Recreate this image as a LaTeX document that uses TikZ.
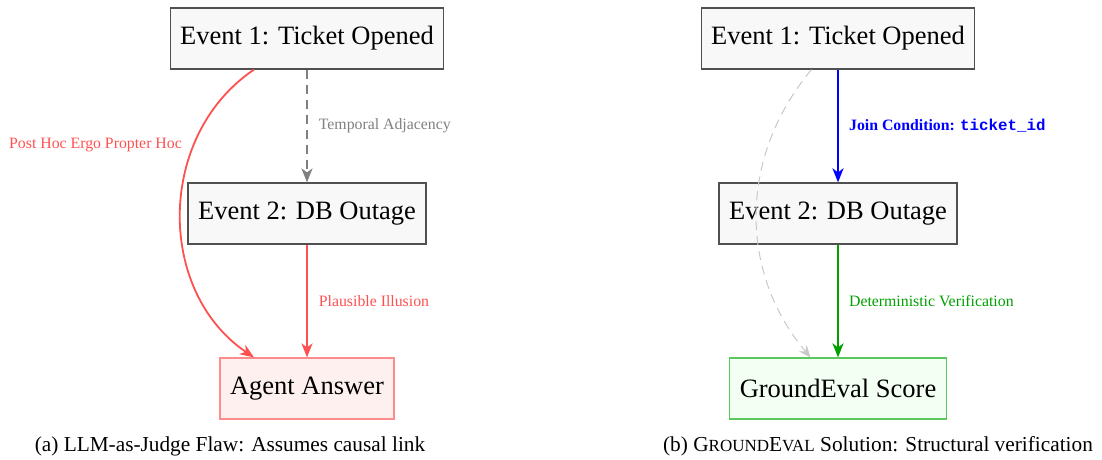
\documentclass[tikz,border=0pt]{standalone}
\usepackage{fontspec}
\setmainfont{Liberation Serif}
\setmonofont{Liberation Mono}
\usetikzlibrary{arrows.meta}
\definecolor{boxgray}{HTML}{F8F8F8}
\definecolor{edgegray}{HTML}{505050}
\definecolor{flawred}{HTML}{FF5050}
\definecolor{flawfill}{HTML}{FFF0F0}
\definecolor{flawedge}{HTML}{FF8C8C}
\definecolor{okgreen}{HTML}{00A000}
\definecolor{okfill}{HTML}{F2FFF2}
\definecolor{okedge}{HTML}{5CC85C}
\definecolor{lightdash}{HTML}{C8C8C8}
\definecolor{tempgray}{HTML}{808080}
\definecolor{joinblue}{HTML}{0000FF}
\begin{document}
\begin{tikzpicture}[x=1pt,y=1pt,
  evbox/.style={draw=edgegray, fill=boxgray, line width=1.2pt, minimum height=61pt,
    inner xsep=10pt, font=\fontsize{26.5}{30}\selectfont},
  flawbox/.style={evbox, draw=flawedge, fill=flawfill},
  okbox/.style={evbox, draw=okedge, fill=okfill},
  arrowtip/.style={-{Stealth[length=14pt,width=11pt,inset=4pt]}},
  tempedge/.style={arrowtip, draw=tempgray, line width=1.8pt, dash pattern=on 9pt off 6pt},
  flawedgearrow/.style={arrowtip, draw=flawred, line width=1.8pt},
  joinedge/.style={arrowtip, draw=joinblue, line width=2.2pt},
  okedgearrow/.style={arrowtip, draw=okgreen, line width=2.2pt},
  ghostedge/.style={-{Stealth[length=12pt,width=10pt,inset=4pt]}, draw=lightdash, line width=1pt, dash pattern=on 9pt off 6pt},
  lbl/.style={font=\fontsize{15.8}{18}\selectfont, inner sep=0pt},
  captext/.style={font=\fontsize{21.3}{24}\selectfont, inner sep=0pt, anchor=base}
]
\useasboundingbox (0,0) rectangle (1102,-460);

% left panel
\node[evbox] (L1) at (307,-38.5) {Event 1: Ticket Opened};
\node[evbox] (L2) at (307,-213.5) {Event 2: DB Outage};
\node[flawbox] (LA) at (307,-388.5) {Agent Answer};

\draw[tempedge] (L1.south) -- node[lbl, right, xshift=11pt, text=tempgray] (tlbl) {Temporal Adjacency} (L2.north);
\draw[flawedgearrow] (L2.south) -- node[lbl, right, xshift=11pt, text=flawred] (plbl) {Plausible Illusion} (LA.north);
\draw[flawedgearrow] ([xshift=-53pt]L1.south) to[out=214,in=146,looseness=1.05] ([xshift=-53pt]LA.north);
\node[lbl, anchor=east, text=flawred] (phlbl) at (182,-145) {Post Hoc Ergo Propter Hoc};

\node[captext] (capa) at (230,-451) {(a) LLM-as-Judge Flaw: Assumes causal link};

% right panel
\node[evbox] (R1) at (838,-38.5) {Event 1: Ticket Opened};
\node[evbox] (R2) at (838,-213.5) {Event 2: DB Outage};
\node[okbox] (RS) at (838,-388.5) {GroundEval Score};

\draw[ghostedge] ([xshift=-26.5pt]R1.south) to[out=230,in=130] ([xshift=-27.5pt]RS.north);
\draw[joinedge] (R1.south) -- node[lbl, right, xshift=10pt, text=joinblue] (jlbl) {\textbf{Join Condition: \texttt{\textbf{ticket\_id}}}} (R2.north);
\draw[okedgearrow] (R2.south) -- node[lbl, right, xshift=10pt, text=okgreen] (dlbl) {Deterministic Verification} (RS.north);

\node[captext] (capb) at (878,-451) {(b) G{\fontsize{17}{20}\selectfont ROUND}E{\fontsize{17}{20}\selectfont VAL} Solution: Structural verification};
\end{tikzpicture}
\end{document}
